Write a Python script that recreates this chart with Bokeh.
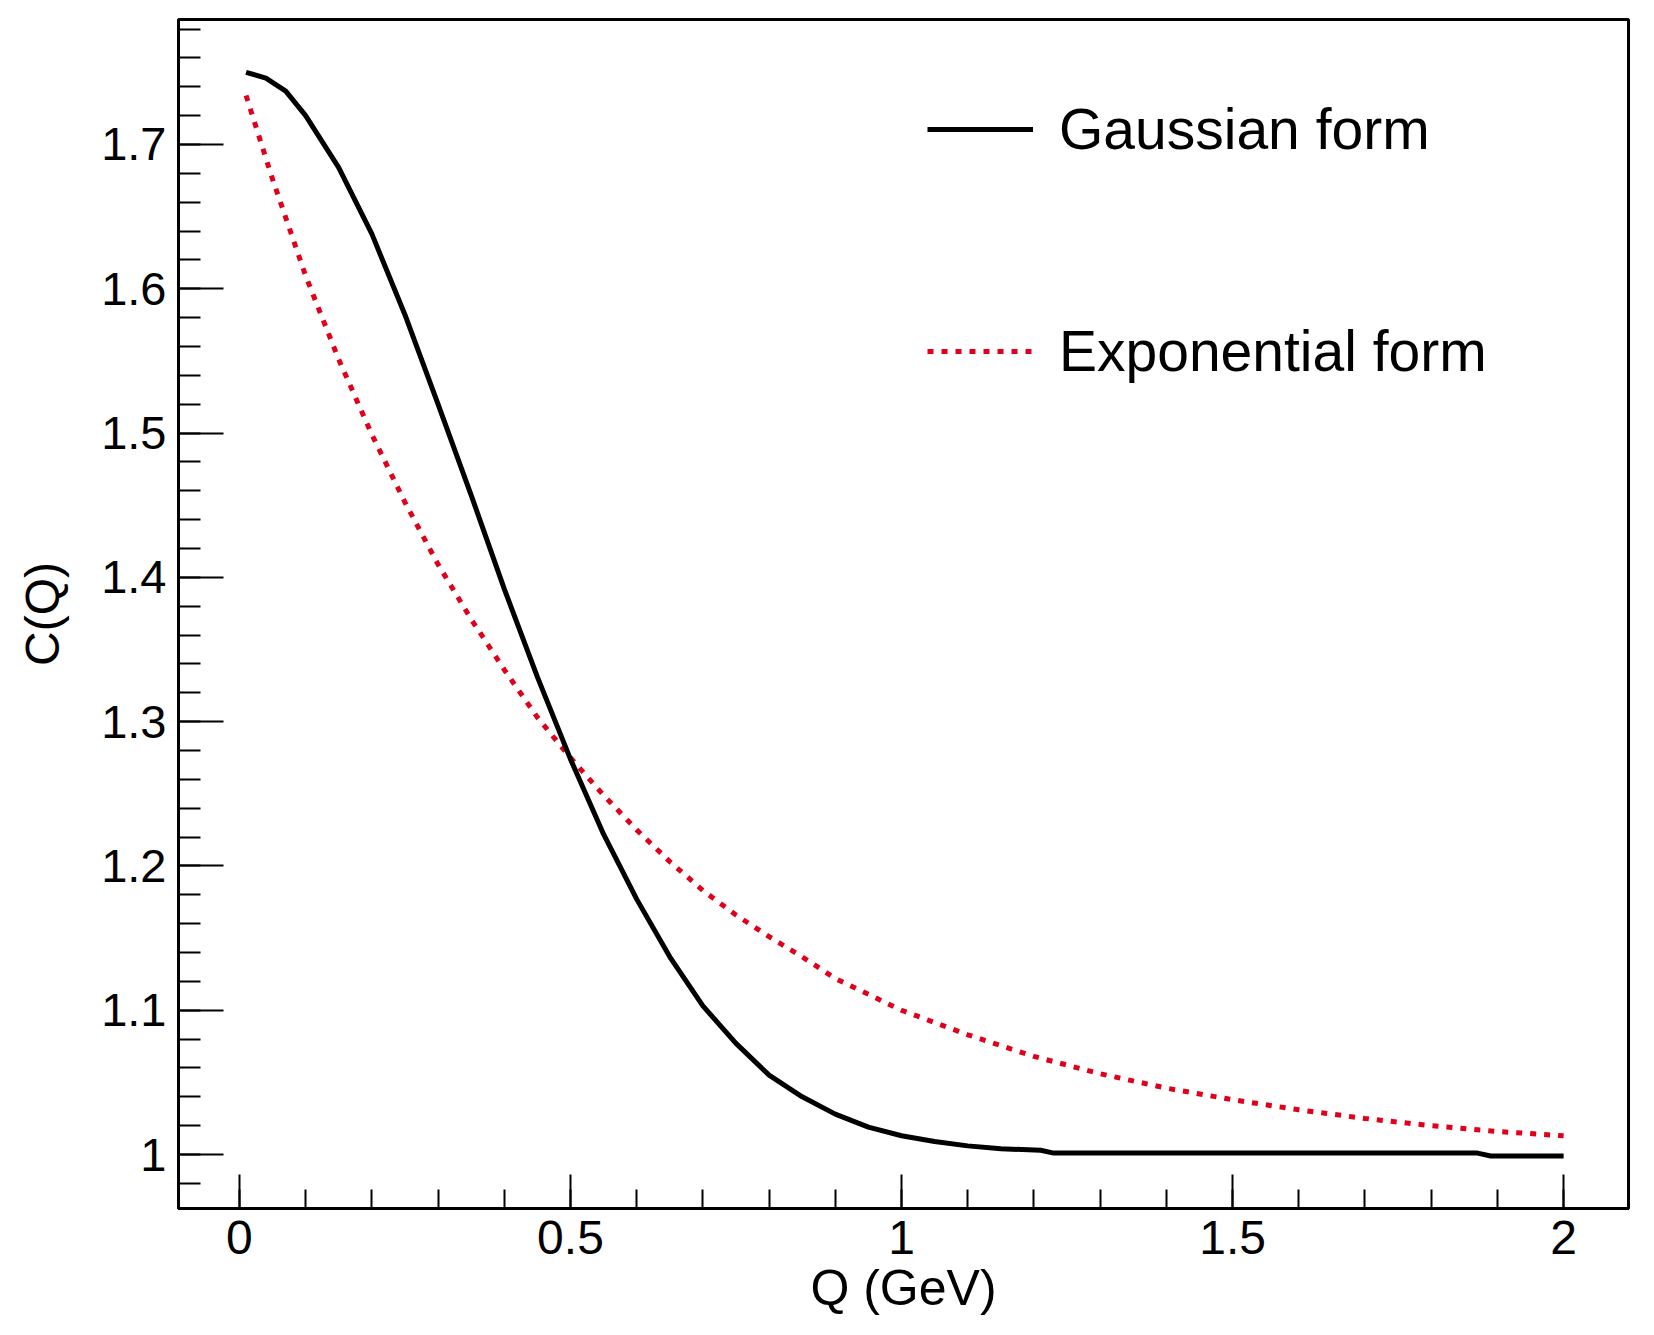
from bokeh.plotting import figure
from bokeh.models import FixedTicker, CustomJSTickFormatter, Legend, LegendItem, Range1d
from bokeh.embed import file_html
from bokeh.resources import INLINE

# ---- data ----
q_gauss = [0.01, 0.04, 0.07, 0.10, 0.15, 0.20, 0.25, 0.30, 0.35, 0.40, 0.45,
           0.50, 0.55, 0.60, 0.65, 0.70, 0.75, 0.80, 0.85, 0.90, 0.95, 1.00,
           1.05, 1.10, 1.15, 1.21, 1.23, 1.87, 1.89, 2.00]
c_gauss = [1.750, 1.746, 1.737, 1.720, 1.684, 1.638, 1.582, 1.520, 1.457, 1.392, 1.331,
           1.274, 1.222, 1.177, 1.137, 1.103, 1.077, 1.055, 1.040, 1.028, 1.019, 1.013,
           1.009, 1.006, 1.004, 1.003, 1.001, 1.001, 0.999, 0.999]

q_expo = [0.01, 0.05, 0.10, 0.15, 0.20, 0.25, 0.30, 0.35, 0.40, 0.45, 0.50,
          0.55, 0.60, 0.65, 0.70, 0.75, 0.80, 0.85, 0.90, 0.95, 1.00,
          1.10, 1.20, 1.30, 1.40, 1.50, 1.60, 1.70, 1.80, 1.90, 2.00]
c_expo = [1.734, 1.676, 1.609, 1.551, 1.499, 1.452, 1.409, 1.371, 1.336, 1.303, 1.275,
          1.249, 1.225, 1.203, 1.183, 1.166, 1.151, 1.137, 1.122, 1.111, 1.100,
          1.083, 1.068, 1.056, 1.046, 1.038, 1.031, 1.025, 1.020, 1.016, 1.013]

x_major = [0, 0.5, 1, 1.5, 2]
x_minor = [0.0, 0.1, 0.2, 0.3, 0.4, 0.5, 0.6, 0.7, 0.8, 0.9, 1.0,
           1.1, 1.2, 1.3, 1.4, 1.5, 1.6, 1.7, 1.8, 1.9, 2.0]
y_major = [1.0, 1.1, 1.2, 1.3, 1.4, 1.5, 1.6, 1.7]
y_minor = [0.98, 1.00, 1.02, 1.04, 1.06, 1.08, 1.10, 1.12, 1.14, 1.16, 1.18, 1.20,
           1.22, 1.24, 1.26, 1.28, 1.30, 1.32, 1.34, 1.36, 1.38, 1.40, 1.42, 1.44,
           1.46, 1.48, 1.50, 1.52, 1.54, 1.56, 1.58, 1.60, 1.62, 1.64, 1.66, 1.68,
           1.70, 1.72, 1.74, 1.76, 1.78]

x_title = "Q (GeV)"
y_title = "C(Q)"
names = ["Gaussian form", "Exponential form"]

FONT = "Liberation Sans"

p = figure(width=1638, height=1319, output_backend="svg", toolbar_location=None,
           x_range=Range1d(-0.092, 2.098), y_range=Range1d(0.9626, 1.7866),
           min_border_left=178, min_border_right=10, min_border_top=19,
           min_border_bottom=111)
p.background_fill_color = "white"
p.border_fill_color = "white"
p.outline_line_color = "black"
p.outline_line_width = 3
p.xgrid.visible = False
p.ygrid.visible = False

fmt = CustomJSTickFormatter(code="return tick.toFixed(1).replace(/\\.0$/, '');")

xa = p.xaxis[0]
xa.ticker = FixedTicker(ticks=x_major, minor_ticks=x_minor)
xa.formatter = fmt
xa.axis_line_width = 3
xa.major_tick_in = 34
xa.major_tick_out = 0
xa.minor_tick_in = 19
xa.minor_tick_out = 0
xa.major_tick_line_width = 2
xa.minor_tick_line_width = 2
xa.major_label_text_font = FONT
xa.major_label_text_font_size = "48px"
xa.major_label_text_color = "black"
xa.major_label_standoff = 12
xa.axis_label = x_title
xa.axis_label_text_font = FONT
xa.axis_label_text_font_size = "50px"
xa.axis_label_text_font_style = "normal"
xa.axis_label_text_color = "black"
xa.axis_label_standoff = 3

ya = p.yaxis[0]
ya.ticker = FixedTicker(ticks=y_major, minor_ticks=y_minor)
ya.formatter = fmt
ya.axis_line_width = 3
ya.major_tick_in = 45
ya.major_tick_out = 0
ya.minor_tick_in = 22
ya.minor_tick_out = 0
ya.major_tick_line_width = 2
ya.minor_tick_line_width = 2
ya.major_label_text_font = FONT
ya.major_label_text_font_size = "47px"
ya.major_label_text_color = "black"
ya.major_label_standoff = 12
ya.axis_label = y_title
ya.axis_label_text_font = FONT
ya.axis_label_text_font_size = "48px"
ya.axis_label_text_font_style = "normal"
ya.axis_label_text_color = "black"
ya.axis_label_standoff = 29

r_exp = p.line(q_expo, c_expo, line_color="#e0001b", line_width=5, line_dash="6 8")
r_gau = p.line(q_gauss, c_gauss, line_color="black", line_width=5)

legend = Legend(items=[LegendItem(label=names[0], renderers=[r_gau]),
                       LegendItem(label=names[1], renderers=[r_exp])],
                location=(749, 822), orientation="vertical",
                glyph_width=106, glyph_height=70, label_height=70,
                label_standoff=26, spacing=152, padding=0, margin=0,
                border_line_color=None, background_fill_alpha=0,
                label_text_font=FONT, label_text_font_size="57px",
                label_text_color="black")
p.add_layout(legend, "center")

open("out.html", "w").write(file_html(p, INLINE))
